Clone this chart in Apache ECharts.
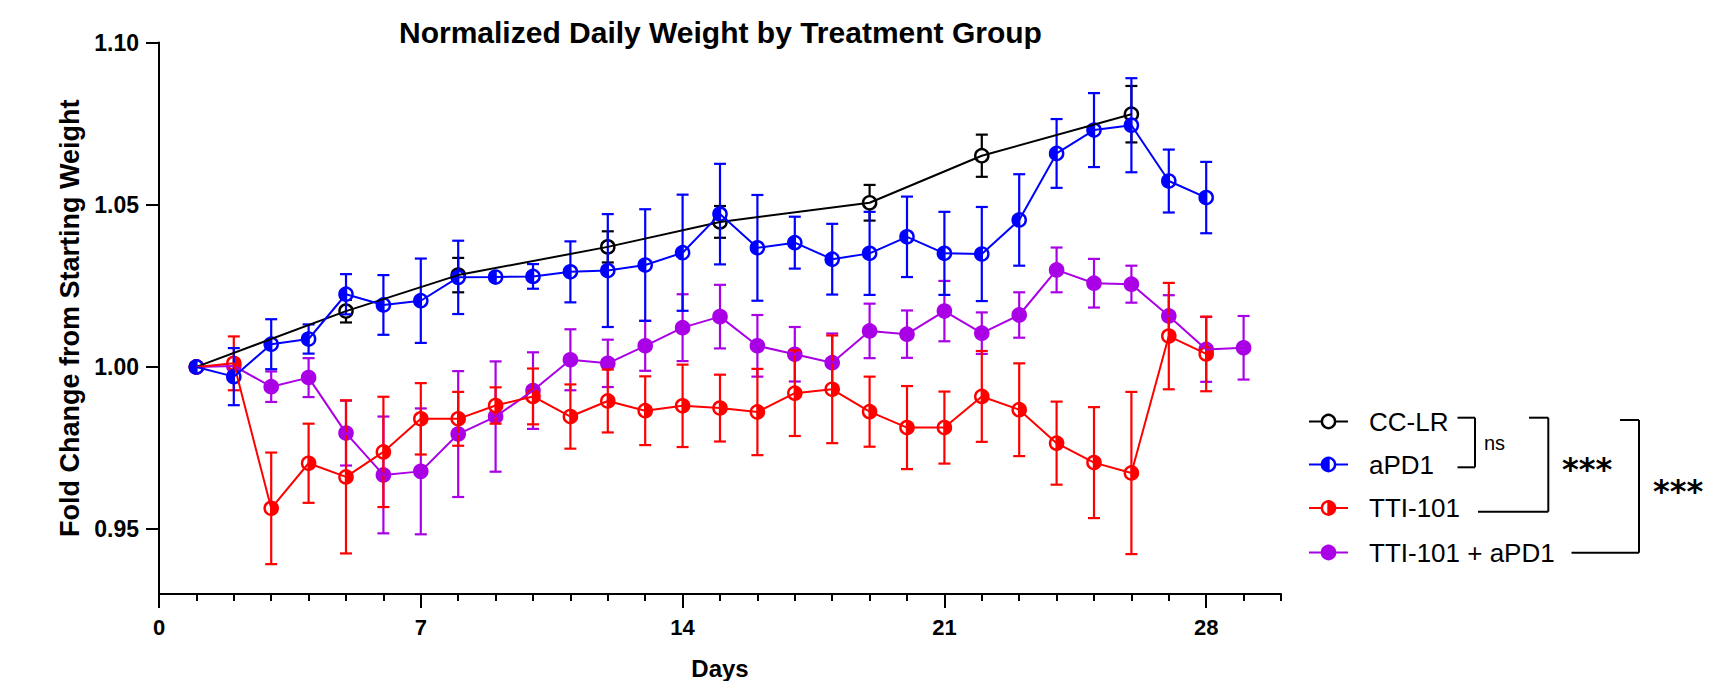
<!DOCTYPE html>
<html>
<head>
<meta charset="utf-8">
<script src="https://cdn.jsdelivr.net/npm/echarts@6/dist/echarts.min.js"></script>
<style>
html,body{margin:0;padding:0;background:#fff;}
#chart{width:1728px;height:681px;}
</style>
</head>
<body>
<div id="chart"></div>
<script>
// ---------- DATA ----------
const xTicks = [0, 7, 14, 21, 28];
const yTicks = [0.95, 1.00, 1.05, 1.10];

const ccName = 'CC-LR';
const ccDays = [1, 5, 8, 12, 15, 19, 22, 26];
const ccMean = [1.0000, 1.0172, 1.0283, 1.0370, 1.0447, 1.0506, 1.0651, 1.0779];
const ccSem  = [0.0000, 0.0035, 0.0053, 0.0048, 0.0049, 0.0055, 0.0065, 0.0087];

const apdName = 'aPD1';
const apdDays = [1,2,3,4,5,6,7,8,9,10,11,12,13,14,15,16,17,18,19,20,21,22,23,24,25,26,27,28];
const apdMean = [1.0000,0.9970,1.0070,1.0086,1.0224,1.0191,1.0204,1.0276,1.0277,1.0279,1.0293,1.0297,1.0314,1.0352,
                 1.0471,1.0367,1.0383,1.0332,1.0350,1.0401,1.0350,1.0348,1.0453,1.0658,1.0730,1.0745,1.0573,1.0522];
const apdSem  = [0.0000,0.0088,0.0077,0.0045,0.0062,0.0092,0.0130,0.0113,0.0012,0.0038,0.0094,0.0174,0.0172,0.0179,
                 0.0155,0.0163,0.0080,0.0109,0.0128,0.0124,0.0128,0.0145,0.0141,0.0106,0.0114,0.0145,0.0097,0.0110];

const ttiName = 'TTI-101';
const ttiDays = [1,2,3,4,5,6,7,8,9,10,11,12,13,14,15,16,17,18,19,20,21,22,23,24,25,26,27,28];
const ttiMean = [1.0000,1.0011,0.9564,0.9703,0.9661,0.9738,0.9840,0.9840,0.9881,0.9909,0.9847,0.9895,0.9865,0.9880,
                 0.9873,0.9861,0.9919,0.9931,0.9862,0.9813,0.9813,0.9909,0.9868,0.9765,0.9705,0.9673,1.0095,1.0040];
const ttiSem  = [0.0000,0.0083,0.0172,0.0122,0.0236,0.0170,0.0110,0.0083,0.0056,0.0086,0.0099,0.0097,0.0106,0.0127,
                 0.0103,0.0133,0.0132,0.0166,0.0108,0.0128,0.0111,0.0140,0.0143,0.0128,0.0171,0.0250,0.0164,0.0115];

const comboName = 'TTI-101 + aPD1';
const comboDays = [1,2,3,4,5,6,7,8,9,10,11,12,13,14,15,16,17,18,19,20,21,22,23,24,25,26,27,28,29];
const comboMean = [1.0000,1.0003,0.9939,0.9967,0.9796,0.9667,0.9678,0.9793,0.9847,0.9927,1.0022,1.0011,1.0065,1.0121,
                   1.0155,1.0065,1.0039,1.0013,1.0111,1.0101,1.0172,1.0104,1.0160,1.0299,1.0258,1.0255,1.0157,1.0054,1.0059];
const comboSem  = [0.0000,0.0020,0.0047,0.0060,0.0100,0.0180,0.0194,0.0194,0.0170,0.0118,0.0094,0.0073,0.0077,0.0103,
                   0.0098,0.0095,0.0084,0.0090,0.0084,0.0073,0.0093,0.0064,0.0070,0.0069,0.0075,0.0057,0.0064,0.0100,0.0098];

// ---------- STYLE ----------
const FONT = "'Liberation Sans', Arial, Helvetica, sans-serif";
const C_BLACK = '#000000', C_BLUE = '#0000ff', C_RED = '#ff0000', C_PURPLE = '#aa00e6';
const R = 6.6, LW = 2.4, CAP = 6;

function markerEls(cx, cy, color, mode) {
  const els = [{
    type: 'circle', shape: {cx: cx, cy: cy, r: R},
    style: {fill: mode === 'full' ? color : '#ffffff', stroke: color, lineWidth: LW}
  }];
  if (mode === 'left' || mode === 'right') {
    els.push({
      type: 'sector',
      shape: {cx: cx, cy: cy, r0: 0, r: R,
              startAngle: mode === 'left' ? Math.PI / 2 : -Math.PI / 2,
              endAngle: mode === 'left' ? Math.PI * 1.5 : Math.PI / 2, clockwise: true},
      style: {fill: color}
    });
    els.push({type: 'line', shape: {x1: cx, y1: cy - R, x2: cx, y2: cy + R},
              style: {stroke: color, lineWidth: LW}});
  }
  return els;
}

function lineSeries(name, days, mean, color) {
  return {
    type: 'line', name: name, data: days.map((d, i) => [d, mean[i]]),
    symbol: 'none', showSymbol: false,
    lineStyle: {color: color, width: 2}, itemStyle: {color: color},
    silent: true
  };
}

function markSeries(name, days, mean, sem, color, mode) {
  return {
    type: 'custom', name: name,
    data: days.map((d, i) => [d, mean[i], sem[i]]),
    encode: {x: 0, y: 1},
    clip: false, silent: true,
    renderItem: function (params, api) {
      const x = api.value(0), m = api.value(1), e = api.value(2);
      const c = api.coord([x, m]);
      const ch = [];
      if (e > 0) {
        const t = api.coord([x, m + e])[1];
        const b = api.coord([x, m - e])[1];
        const st = {stroke: color, lineWidth: 2.2};
        ch.push({type: 'line', shape: {x1: c[0], y1: t, x2: c[0], y2: b}, style: st});
        ch.push({type: 'line', shape: {x1: c[0] - CAP, y1: t, x2: c[0] + CAP, y2: t}, style: st});
        ch.push({type: 'line', shape: {x1: c[0] - CAP, y1: b, x2: c[0] + CAP, y2: b}, style: st});
      }
      markerEls(c[0], c[1], color, mode).forEach(el => ch.push(el));
      return {type: 'group', children: ch};
    }
  };
}

// ---------- LEGEND + BRACKETS (graphic) ----------
const legendRows = [
  {name: ccName, color: C_BLACK, mode: 'open', y: 421.5},
  {name: apdName, color: C_BLUE, mode: 'left', y: 464.5},
  {name: ttiName, color: C_RED, mode: 'right', y: 508},
  {name: comboName, color: C_PURPLE, mode: 'full', y: 552.5}
];
const graphics = [];
legendRows.forEach(r => {
  graphics.push({type: 'line', shape: {x1: 1309, y1: r.y, x2: 1348, y2: r.y},
                 style: {stroke: r.color, lineWidth: 2}});
  markerEls(1328.5, r.y, r.color, r.mode).forEach(el => graphics.push(el));
  graphics.push({type: 'text', x: 1369, y: r.y,
                 style: {text: r.name, fontSize: 26, fontFamily: FONT, fill: '#000',
                         textAlign: 'left', textVerticalAlign: 'middle', align: 'left', verticalAlign: 'middle'}});
});
function seg(x1, y1, x2, y2) {
  graphics.push({type: 'line', shape: {x1: x1, y1: y1, x2: x2, y2: y2},
                 style: {stroke: '#000', lineWidth: 2}});
}
// ns bracket
seg(1457.5, 417.7, 1475, 417.7); seg(1475, 417.7, 1475, 467.3); seg(1457.5, 467.3, 1475, 467.3);
// middle bracket
seg(1529, 417.7, 1548.3, 417.7); seg(1548.3, 417.7, 1548.3, 511.7); seg(1478, 511.7, 1548.3, 511.7);
// outer bracket
seg(1620, 420, 1639, 420); seg(1639, 420, 1639, 552.7); seg(1571.5, 552.7, 1639, 552.7);
graphics.push({type: 'text', x: 1484, y: 443,
               style: {text: 'ns', fontSize: 20, fontFamily: FONT, fill: '#000',
                       textAlign: 'left', textVerticalAlign: 'middle', align: 'left', verticalAlign: 'middle'}});
graphics.push({type: 'text', x: 1562, y: 469,
               style: {text: '***', fontSize: 32, fontWeight: 'bold', fontFamily: "'DejaVu Sans', sans-serif", fill: '#000',
                       textAlign: 'left', textVerticalAlign: 'middle', align: 'left', verticalAlign: 'middle'}});
graphics.push({type: 'text', x: 1653, y: 491,
               style: {text: '***', fontSize: 32, fontWeight: 'bold', fontFamily: "'DejaVu Sans', sans-serif", fill: '#000',
                       textAlign: 'left', textVerticalAlign: 'middle', align: 'left', verticalAlign: 'middle'}});

// ---------- CHART ----------
const chart = echarts.init(document.getElementById('chart'), null, {renderer: 'svg'});
const axisLineStyle = {color: '#000', width: 2};
chart.setOption({
  animation: false,
  backgroundColor: '#ffffff',
  title: {
    text: 'Normalized Daily Weight by Treatment Group',
    left: 394, top: 12,
    textStyle: {fontSize: 30, fontWeight: 'bold', fontFamily: FONT, color: '#000'}
  },
  grid: {left: 159, right: 447, top: 42.5, bottom: 87, containLabel: false, outerBoundsMode: 'none'},
  xAxis: [{
    type: 'value', min: 0, max: 30, interval: 7,
    axisLine: {show: true, onZero: false, lineStyle: axisLineStyle},
    axisTick: {show: true, length: 14, lineStyle: axisLineStyle, customValues: xTicks},
    axisLabel: {customValues: xTicks, fontSize: 22, fontWeight: 'bold', fontFamily: FONT, color: '#000', margin: 22},
    splitLine: {show: false},
    name: 'Days', nameLocation: 'middle', nameGap: 62,
    nameTextStyle: {fontSize: 24, fontWeight: 'bold', fontFamily: FONT, color: '#000'}
  }, {
    type: 'value', min: 0, max: 30, interval: 1, position: 'bottom',
    axisLine: {show: false},
    axisTick: {show: true, length: 7, lineStyle: axisLineStyle},
    axisLabel: {show: false},
    splitLine: {show: false}
  }],
  yAxis: {
    type: 'value', min: 0.93, max: 1.10,
    axisLine: {show: true, onZero: false, lineStyle: axisLineStyle},
    axisTick: {show: true, length: 13, lineStyle: axisLineStyle, customValues: yTicks},
    axisLabel: {customValues: yTicks, formatter: v => v.toFixed(2), fontSize: 23, fontWeight: 'bold',
                fontFamily: FONT, color: '#000', margin: 20},
    splitLine: {show: false},
    name: 'Fold Change from Starting Weight', nameLocation: 'middle', nameRotate: 90, nameGap: 76,
    nameTextStyle: {fontSize: 27, fontWeight: 'bold', fontFamily: FONT, color: '#000'}
  },
  series: [
    lineSeries(ccName, ccDays, ccMean, C_BLACK),
    markSeries(ccName, ccDays, ccMean, ccSem, C_BLACK, 'open'),
    lineSeries(comboName, comboDays, comboMean, C_PURPLE),
    markSeries(comboName, comboDays, comboMean, comboSem, C_PURPLE, 'full'),
    lineSeries(ttiName, ttiDays, ttiMean, C_RED),
    markSeries(ttiName, ttiDays, ttiMean, ttiSem, C_RED, 'right'),
    lineSeries(apdName, apdDays, apdMean, C_BLUE),
    markSeries(apdName, apdDays, apdMean, apdSem, C_BLUE, 'left')
  ],
  graphic: graphics
});
</script>
</body>
</html>
